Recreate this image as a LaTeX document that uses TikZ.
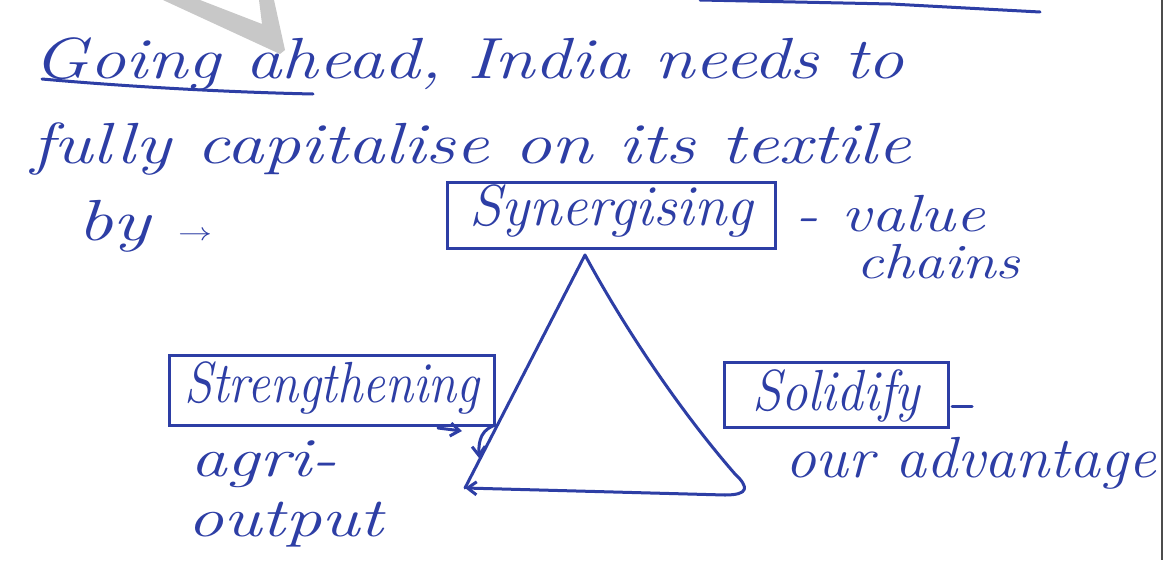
\documentclass[tikz,border=0pt]{standalone}
\usepackage{graphicx}
\usetikzlibrary{arrows.meta,calc}
\definecolor{ink}{RGB}{45,62,165}
\definecolor{wmark}{RGB}{200,200,200}
\newcommand{\fitw}[2]{\resizebox{#1pt}{\height}{\fontsize{58}{70}\selectfont\itshape #2}}
\newcommand{\fitwh}[3]{\resizebox{#1pt}{#2\height}{\fontsize{58}{70}\selectfont\itshape #3}}
\begin{document}
\begin{tikzpicture}[x=1pt,y=-1pt,
  hand/.style={text=ink,inner sep=0pt,outer sep=0pt,anchor=base west},
  inkbox/.style={draw=ink,line width=3pt,inner sep=0pt,outer sep=0pt,text=ink,anchor=base},
  pen/.style={draw=ink,line width=3pt,line cap=round,line join=round},
  tip/.style={-{Straight Barb[length=9pt,width=13pt]}}]
\useasboundingbox (0,0) rectangle (1165,560);
\fill[white] (0,0) rectangle (1165,560);
% watermark
\fill[wmark] (163,0) -- (200,0) -- (262,24) -- (259,0) -- (274,0) -- (285,50) -- (280,54) -- cycle;
% right page edge
\draw[gray!60!black,line width=2pt] (1162,0) -- (1162,560);
% top line (from previous text)
\coordinate (t1) at (700,0); \coordinate (t2) at (891,4); \coordinate (t3) at (1040,12);
\draw[pen] (t1) -- (t2) -- (t3);
% text lines
\node[hand] (l1) at (34,78) {\fitw{870}{Going ahead, India needs to}};
\coordinate (u1) at (42,79); \coordinate (u2) at (313,94);
\draw[pen] (u1) .. controls (120,86) and (220,92) .. (u2);
\node[hand] (l2) at (31,163) {\fitw{880}{fully capitalise on its textile}};
\node[hand] (l3) at (77,240) {\fitw{135}{by $\rightarrow$}};
% Synergising
\node[inkbox,minimum width=328pt,text height=43pt,text depth=23pt] (syn) at (611,225) {\fitw{283}{Synergising}};
\node[hand] (val) at (795,231) {\fitwh{190}{0.9}{- value}};
\node[hand] (cha) at (856,278) {\fitwh{164}{0.85}{chains}};
% Strengthening
\node[inkbox,minimum width=325pt,text height=47pt,text depth=23pt] (str) at (332,402) {\fitw{295}{Strengthening}};
\node[hand] (agr) at (190,476) {\fitwh{147}{0.95}{agri-}};
\node[hand] (out) at (187,536) {\fitwh{196}{0.95}{output}};
% Solidify
\node[inkbox,minimum width=224pt,text height=48pt,text depth=17pt] (sol) at (836,410) {\fitw{168}{Solidify}};
\draw[pen] ($(sol.east)+(4,12)$) -- ++(20,0);
\node[hand] (adv) at (785,477) {\fitw{371}{our advantage}};
% triangle
\coordinate (ap) at (585,255);
\coordinate (bl) at (465,488);
\coordinate (ls) at (479,458);
\draw[pen] (ap) -- (bl);
\draw[pen] (ap) .. controls (620,320) and (675,405) .. (735,474)
  .. controls (749,487) and (749,495) .. (725,495);
\draw[pen,tip] (725,495) -- (bl);
% Strengthening connectors
\draw[pen,tip] (str.south east) .. controls (490,428) and (478,430) .. (ls);
\draw[pen,tip] (438,428) -- (462,431);
\end{tikzpicture}
\end{document}
